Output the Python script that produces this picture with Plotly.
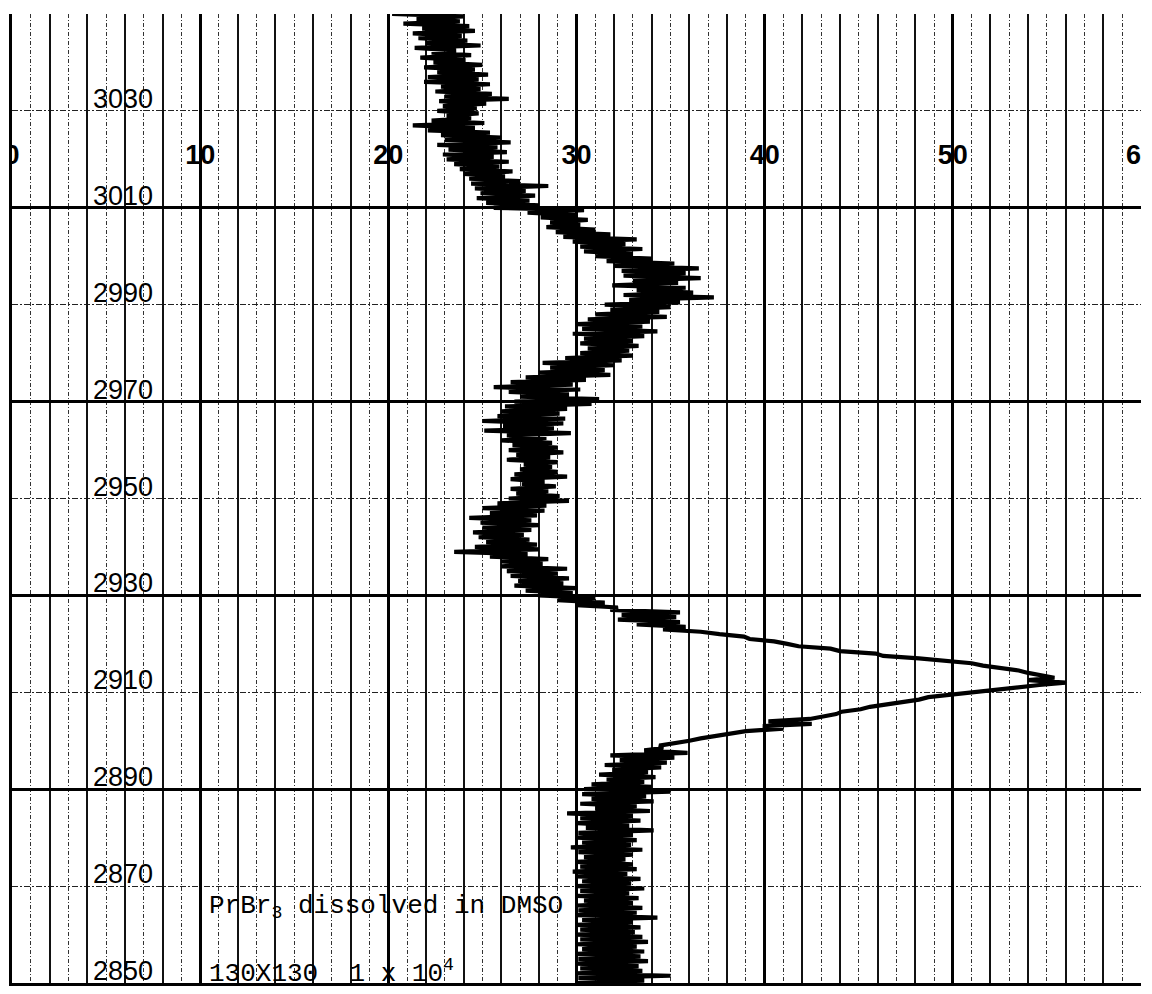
import plotly.graph_objects as go

# ---------------- data ----------------
# Chart-recorder trace read from the picture: value (%) sampled every 0.5 cm-1,
# starting at 3050 cm-1 and going down to 2850 cm-1.
trace_start = 3050.0
trace_step = 0.5
transmittance = [
    20.2, 24.0, 21.5, 23.8, 20.8, 24.3, 21.8, 24.6, 21.3, 23.9,
    21.6, 24.2, 22.0, 24.9, 21.4, 23.6, 22.3, 24.4, 21.7, 24.1,
    22.4, 25.0, 21.9, 24.6, 22.6, 25.3, 22.1, 24.8, 21.9, 25.4,
    22.8, 24.9, 22.5, 25.5, 23.0, 26.4, 22.7, 25.2, 22.9, 24.7,
    22.6, 24.8, 23.1, 24.4, 22.3, 25.1, 21.3, 24.6, 22.1, 25.4,
    22.8, 26.0, 23.0, 26.5, 22.6, 25.8, 23.2, 26.3, 22.9, 25.6,
    23.1, 26.4, 23.5, 25.9, 23.8, 26.6, 24.0, 26.2, 24.3, 27.0,
    24.4, 28.5, 24.6, 27.3, 24.9, 27.8, 24.7, 27.5, 25.2, 28.0,
    25.6, 30.4, 27.4, 30.0, 28.1, 30.6, 28.6, 30.2, 28.4, 31.0,
    28.9, 31.8, 29.3, 33.2, 29.8, 32.6, 30.2, 33.5, 30.4, 33.0,
    31.0, 34.0, 31.6, 35.2, 32.0, 36.5, 32.4, 35.8, 32.5, 36.6,
    33.0, 35.4, 31.9, 35.8, 33.2, 36.2, 32.5, 37.3, 32.8, 35.5,
    31.5, 35.0, 31.8, 34.4, 31.0, 34.8, 30.6, 33.9, 30.0, 33.5,
    30.3, 34.3, 29.8, 33.6, 30.4, 33.0, 30.2, 33.3, 30.6, 32.8,
    30.2, 33.0, 29.4, 32.4, 28.2, 32.0, 28.6, 31.5, 28.0, 31.8,
    27.3, 30.5, 26.5, 29.8, 25.6, 30.2, 26.4, 29.6, 27.0, 31.2,
    26.7, 30.8, 26.2, 29.5, 26.0, 29.1, 25.8, 29.4, 25.0, 29.3,
    26.1, 28.8, 25.1, 29.7, 26.3, 28.4, 26.0, 28.7, 26.6, 29.0,
    26.4, 29.3, 26.8, 28.6, 26.3, 29.0, 27.2, 28.7, 27.0, 29.0,
    26.7, 29.5, 26.5, 28.3, 27.1, 28.9, 26.5, 28.5, 26.8, 29.1,
    26.4, 29.6, 25.8, 28.4, 25.0, 28.3, 25.4, 27.9, 24.3, 27.6,
    24.9, 28.0, 25.0, 27.6, 24.5, 27.2, 24.8, 27.5, 25.2, 27.9,
    24.6, 28.0, 23.5, 27.4, 25.4, 28.5, 26.0, 28.2, 26.0, 29.5,
    26.3, 29.0, 26.5, 29.6, 26.9, 29.3, 26.7, 30.0, 27.3, 29.8,
    28.0, 31.0, 29.0, 31.5, 30.0, 32.2, 31.8, 35.5, 32.4, 35.3,
    32.2, 35.5, 33.2, 35.8, 34.6, 36.6, 37.6, 38.9, 39.2, 40.5,
    41.2, 41.8, 43.5, 44.0, 45.9, 46.3, 48.2, 49.4, 51.0, 51.6,
    52.6, 53.5, 54.0, 54.8, 55.4, 54.0, 56.0, 54.6, 53.4, 52.2,
    51.0, 50.2, 48.7, 48.2, 47.2, 46.5, 45.6, 45.1, 44.1, 43.8,
    43.0, 42.4, 40.2, 42.5, 39.9, 41.0, 39.0, 38.1, 37.4, 36.6,
    36.0, 35.2, 34.4, 34.6, 33.6, 35.9, 31.8, 35.2, 32.3, 34.8,
    31.5, 34.5, 31.9, 33.8, 31.2, 34.2, 31.6, 33.6, 30.8, 34.0,
    30.4, 35.0, 30.3, 33.7, 30.8, 34.1, 30.2, 33.2, 31.0, 33.9,
    29.5, 33.0, 30.2, 33.4, 30.0, 32.8, 30.5, 34.1, 30.1, 33.0,
    30.0, 33.2, 30.3, 32.9, 29.7, 33.5, 30.1, 33.0, 30.4, 32.6,
    30.0, 33.0, 30.2, 33.2, 29.8, 32.7, 30.0, 33.4, 30.3, 32.9,
    30.0, 33.6, 30.2, 32.8, 30.0, 33.3, 30.4, 33.0, 30.0, 33.5,
    30.1, 33.2, 30.0, 34.3, 30.3, 33.0, 30.0, 33.4, 30.2, 33.1,
    30.0, 33.5, 30.2, 33.8, 30.0, 33.2, 30.3, 33.6, 30.0, 33.4,
    30.1, 33.8, 30.0, 33.3, 30.2, 33.5, 30.0, 35.0, 30.1, 33.6,
    30.0,
]
wavenumber = [trace_start - trace_step * i for i in range(len(transmittance))]

# scale printed across the chart paper
x_scale_values = [0, 10, 20, 30, 40, 50, 60]
x_scale_labels = ["0", "10", "20", "30", "40", "50", "60"]

# wavenumber labels written on the paper
y_label_values = [3030, 3010, 2990, 2970, 2950, 2930, 2910, 2890, 2870, 2850]
y_label_texts = ["3030", "3010", "2990", "2970", "2950", "2930", "2910", "2890", "2870", "2850"]

# typed notes
note_texts = [
    "PrBr<sub>3</sub> dissolved in DMSO",
    "130X130\u00a0\u00a01 x 10<sup>4</sup>",
]
note_wavenumbers = [2865.6, 2852.2]

# ---------------- figure ----------------
X_RANGE = [0, 60]
Y_RANGE = [2850, 3050]

fig = go.Figure()

fig.add_trace(go.Scatter(
    x=transmittance, y=wavenumber, mode="lines",
    line=dict(color="black", width=4.2), hoverinfo="skip", showlegend=False,
))

# bold scale numbers across the paper (clipped at the paper edges)
fig.add_trace(go.Scatter(
    x=x_scale_values, y=[3020.4] * len(x_scale_values), xaxis="x2",
    mode="text", text=x_scale_labels, textposition="middle center",
    textfont=dict(family="Liberation Sans", size=27, color="black", weight="bold"),
    cliponaxis=True, hoverinfo="skip", showlegend=False,
))

for v, t in zip(y_label_values, y_label_texts):
    fig.add_annotation(
        x=4.2, y=v, xref="x", yref="y", text=t, showarrow=False,
        xanchor="left", yanchor="bottom", yshift=-5,
        font=dict(family="Liberation Sans", size=27, color="black"),
    )

for t, w in zip(note_texts, note_wavenumbers):
    fig.add_annotation(
        x=10.35, y=w, xref="x", yref="y", text=t, showarrow=False,
        xanchor="left", yanchor="middle",
        font=dict(family="Liberation Mono", size=26, color="black"),
    )

fig.update_layout(
    width=1152, height=994,
    margin=dict(l=12, r=11, t=14, b=11),
    paper_bgcolor="white", plot_bgcolor="white",
    showlegend=False,
    xaxis=dict(
        range=X_RANGE, showticklabels=False, ticks="", zeroline=False,
        showline=True, linecolor="black", linewidth=2.6, mirror=False,
        tick0=0, dtick=2, showgrid=True, gridcolor="#111", gridwidth=1.6,
        minor=dict(tick0=0, dtick=1, showgrid=True, gridcolor="#333", gridwidth=1, griddash="4px,2px,1px,2px"),
        fixedrange=True,
    ),
    xaxis2=dict(
        range=X_RANGE, overlaying="x", side="top", showticklabels=False, ticks="",
        zeroline=False, showline=False, tick0=0, dtick=10,
        showgrid=True, gridcolor="black", gridwidth=3.2,
    ),
    yaxis=dict(
        range=Y_RANGE, showticklabels=False, ticks="", zeroline=False,
        showline=True, linecolor="black", linewidth=3, mirror=False,
        tick0=2850, dtick=40, showgrid=True, gridcolor="black", gridwidth=2.6,
        minor=dict(tick0=2850, dtick=20, showgrid=True, gridcolor="#222", gridwidth=1.3, griddash="6px,2px,2px,2px"),
    ),
)

fig.write_html(
    "out.html",
    config={"displayModeBar": False},
    post_script="document.body.style.margin='0';",
)
